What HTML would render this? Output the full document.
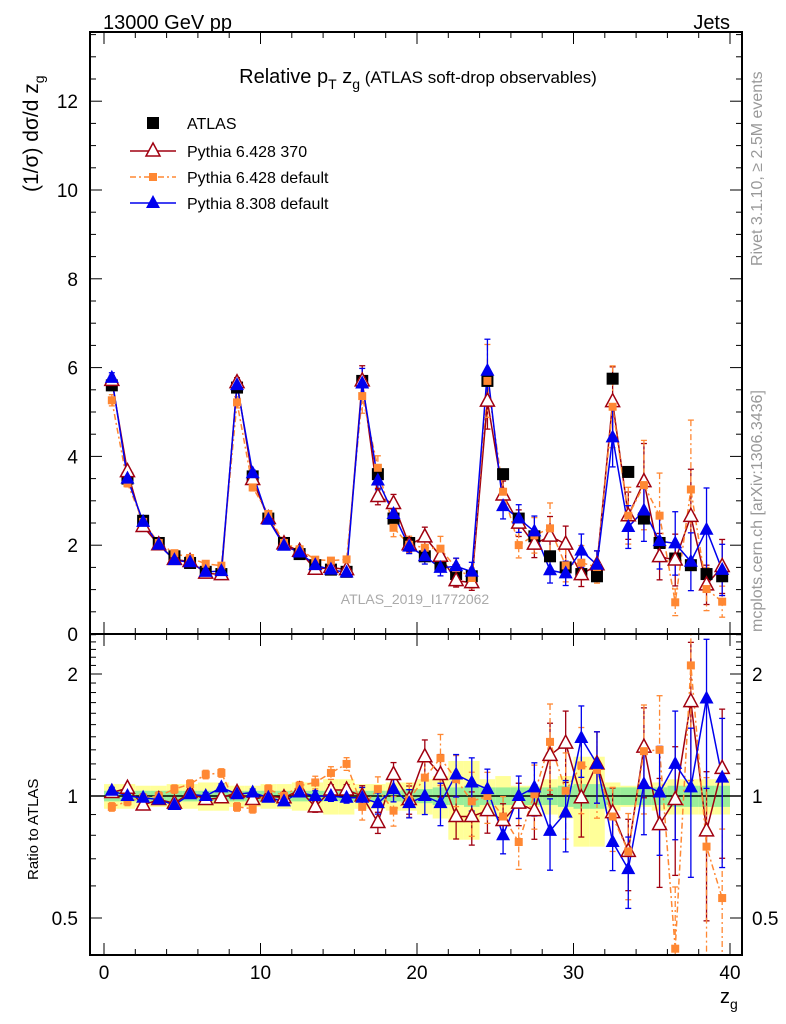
<!DOCTYPE html>
<html><head><meta charset="utf-8"><style>
html,body{margin:0;padding:0;background:#fff;}
svg{display:block;font-family:"Liberation Sans",sans-serif;}
</style></head><body>
<svg id="c" width="786" height="1024" viewBox="0 0 786 1024" xmlns="http://www.w3.org/2000/svg">
<text x="103" y="29" font-size="20">13000 GeV pp</text>
<text x="730" y="29" font-size="20" text-anchor="end">Jets</text>
<text x="418" y="83" font-size="20" text-anchor="middle">Relative p<tspan font-size="14" dy="6">T</tspan><tspan dy="-6"> z</tspan><tspan font-size="14" dy="6">g</tspan><tspan dy="-6" font-size="17"> (ATLAS soft-drop observables)</tspan></text>
<text transform="translate(38,192) rotate(-90)" font-size="21">(1/σ) dσ/d z<tspan font-size="14" dy="6">g</tspan></text>
<text transform="translate(38,880) rotate(-90)" font-size="15">Ratio to ATLAS</text>
<text x="720" y="1003" font-size="20">z<tspan font-size="14" dy="6">g</tspan></text>
<text transform="translate(762,266) rotate(-90)" font-size="16" fill="#999">Rivet 3.1.10, ≥ 2.5M events</text>
<text transform="translate(762,632) rotate(-90)" font-size="16" fill="#999">mcplots.cern.ch [arXiv:1306.3436]</text>
<text x="415" y="604" font-size="14" fill="#aaa" text-anchor="middle">ATLAS_2019_I1772062</text>
<g id="plot"></g>
<g>
<rect x="147" y="117" width="12" height="12" fill="#000"/>
<text x="187" y="129" font-size="16">ATLAS</text>
<line x1="130" y1="151" x2="176" y2="151" stroke="#a00010" stroke-width="1.5"/>
<polygon points="153,143 146,156 160,156" fill="#fff" stroke="#a00010" stroke-width="1.5"/>
<text x="187" y="157" font-size="16">Pythia 6.428 370</text>
<line x1="130" y1="177" x2="176" y2="177" stroke="#ff8833" stroke-width="1.5" stroke-dasharray="6,3,2,3"/>
<rect x="149" y="173" width="8" height="8" fill="#ff8833"/>
<text x="187" y="183" font-size="16">Pythia 6.428 default</text>
<line x1="130" y1="203" x2="176" y2="203" stroke="#0000ee" stroke-width="1.5"/>
<polygon points="153,195 146,208 160,208" fill="#0000ee"/>
<text x="187" y="209" font-size="16">Pythia 8.308 default</text>
</g>
</svg>
<script>
const zBins=[0.5,1.5,2.5,3.5,4.5,5.5,6.5,7.5,8.5,9.5,10.5,11.5,12.5,13.5,14.5,15.5,16.5,17.5,18.5,19.5,20.5,21.5,22.5,23.5,24.5,25.5,26.5,27.5,28.5,29.5,30.5,31.5,32.5,33.5,34.5,35.5,36.5,37.5,38.5,39.5];
const atlas=[5.6,3.5,2.55,2.05,1.75,1.6,1.4,1.35,5.55,3.55,2.6,2.05,1.8,1.55,1.45,1.4,5.7,3.6,2.6,2.05,1.75,1.55,1.35,1.3,5.7,3.6,2.6,2.2,1.75,1.5,1.35,1.3,5.75,3.65,2.6,2.05,1.7,1.55,1.35,1.3];
const bandGreen=[0.03,0.03,0.03,0.03,0.03,0.03,0.03,0.03,0.03,0.03,0.03,0.03,0.03,0.03,0.03,0.03,0.03,0.03,0.03,0.04,0.04,0.05,0.05,0.06,0.05,0.05,0.05,0.05,0.05,0.06,0.07,0.07,0.05,0.05,0.05,0.05,0.06,0.06,0.06,0.06];
const bandYellow=[0.07,0.07,0.06,0.06,0.07,0.07,0.08,0.08,0.06,0.06,0.07,0.07,0.08,0.08,0.1,0.1,0.07,0.07,0.08,0.08,0.1,0.12,0.22,0.22,0.1,0.12,0.06,0.06,0.1,0.12,0.25,0.25,0.08,0.06,0.06,0.08,0.1,0.1,0.1,0.1];
const ratioP6370=[1.02,1.045,0.95,0.98,0.96,1.02,0.98,0.99,1.02,0.98,1.0,0.99,1.035,0.94,1.035,1.035,1.0,0.86,1.13,0.98,1.25,1.13,0.89,0.89,0.92,0.87,0.96,0.92,1.26,1.35,0.99,1.2,0.91,0.73,1.32,0.85,0.98,1.71,0.82,1.17];
const ratioP6def=[0.94,0.97,0.99,1.0,1.04,1.07,1.13,1.14,0.94,0.93,1.04,1.0,1.06,1.08,1.14,1.2,0.94,1.04,0.92,0.98,1.11,1.24,1.1,0.97,1.0,0.89,0.77,1.01,1.36,1.03,1.19,1.16,0.89,0.73,1.29,1.3,0.42,2.1,0.75,0.56];
const ratioP8=[1.03,1.0,0.99,0.98,0.95,1.01,1.0,1.05,1.01,1.02,0.99,0.97,1.02,1.0,1.0,0.99,0.99,0.96,1.04,0.96,1.0,0.96,1.13,1.08,1.04,0.8,1.0,1.05,0.82,0.91,1.39,1.2,0.77,0.66,1.07,1.02,1.2,1.05,1.74,1.11];
const mcErr=[0.02,0.02,0.02,0.02,0.02,0.02,0.02,0.02,0.02,0.02,0.02,0.02,0.02,0.03,0.03,0.03,0.06,0.06,0.07,0.08,0.1,0.12,0.12,0.15,0.12,0.1,0.12,0.15,0.2,0.2,0.2,0.2,0.15,0.2,0.25,0.3,0.35,0.4,0.4,0.4];
const yTicks=[0,2,4,6,8,10,12];
const xTicks=[0,10,20,30,40];
const rTicks=[0.5,1,2];

const NS="http://www.w3.org/2000/svg";
const g=document.getElementById('plot');
const L=90,R=742,T=32,MB=634,RB=955;
const X=z=>104+z*15.65;
const Y=v=>634-v*44.4;
const RY=r=>796-Math.log2(r)*122;
function mk(tag,a,parent){const e=document.createElementNS(NS,tag);for(const k in a)e.setAttribute(k,a[k]);(parent||g).appendChild(e);return e;}
const clipM=mk('clipPath',{id:'cm'});mk('rect',{x:L,y:T,width:R-L,height:MB-T},clipM);
const clipR=mk('clipPath',{id:'cr'});mk('rect',{x:L,y:MB,width:R-L,height:RB-MB},clipR);
const gm=mk('g',{'clip-path':'url(#cm)'});


const gr=mk('g',{'clip-path':'url(#cr)'});


const hw=7.8;
zBins.forEach((z,i)=>{
 const y=mk('rect',{x:X(z)-hw,y:RY(1+bandYellow[i]),width:2*hw,height:RY(1-bandYellow[i])-RY(1+bandYellow[i]),fill:'#ffff99'},gr);
 
 
});
zBins.forEach((z,i)=>{
 const e=mk('rect',{x:X(z)-hw,y:RY(1+bandGreen[i]),width:2*hw,height:RY(1-bandGreen[i])-RY(1+bandGreen[i]),fill:'#99ee99'},gr);
 
 
});
mk('line',{x1:L,x2:R,y1:RY(1),y2:RY(1),stroke:'#000','stroke-width':1.5},gr);
const series=[
 {r:ratioP6370,c:'#a00010',dash:'',m:'otri',name:'p6-370'},
 {r:ratioP6def,c:'#ff8833',dash:'6,3,2,3',m:'sq',name:'p6-default'},
 {r:ratioP8,c:'#0000ee',dash:'',m:'tri',name:'p8'}
];
function marker(par,m,x,y,c,nm){
 let e;
 if(m==='otri')e=mk('polygon',{points:`${x},${y-8} ${x-7},${y+5} ${x+7},${y+5}`,fill:'#fff',stroke:c,'stroke-width':1.5},par);
 else if(m==='tri')e=mk('polygon',{points:`${x},${y-8} ${x-7},${y+5} ${x+7},${y+5}`,fill:c},par);
 else if(m==='sq')e=mk('rect',{x:x-4,y:y-4,width:8,height:8,fill:c},par);
 else e=mk('rect',{x:x-6,y:y-6,width:12,height:12,fill:c},par);
 
 
}
series.forEach(s=>{
 const vals=atlas.map((a,i)=>a*s.r[i]);
 let d='';vals.forEach((v,i)=>{d+=(i?'L':'M')+X(zBins[i])+','+Y(v);});
 const pl=mk('path',{d,fill:'none',stroke:s.c,'stroke-width':1.5,'stroke-dasharray':s.dash},gm);
 
 
 let d2='';s.r.forEach((v,i)=>{d2+=(i?'L':'M')+X(zBins[i])+','+RY(v);});
 const pr=mk('path',{d:d2,fill:'none',stroke:s.c,'stroke-width':1.5,'stroke-dasharray':s.dash},gr);
 
 
 vals.forEach((v,i)=>{
  const x=X(zBins[i]),e=mcErr[i]*(s.m==='sq'?1.2:1);
  [[gm,Y(v*(1+e)),Y(v*(1-e))],[gr,RY(s.r[i]*(1+e)),RY(Math.max(0.05,s.r[i]*(1-e)))]].forEach(([p,a,b])=>{
   mk('line',{x1:x,x2:x,y1:a,y2:b,stroke:s.c,'stroke-width':1.3,'stroke-dasharray':s.dash},p);
   mk('line',{x1:x-3,x2:x+3,y1:a,y2:a,stroke:s.c,'stroke-width':1.3},p);
   mk('line',{x1:x-3,x2:x+3,y1:b,y2:b,stroke:s.c,'stroke-width':1.3},p);
  });
 });
});
zBins.forEach((z,i)=>marker(gm,'data',X(z),Y(atlas[i]),'#000','atlas-point'));
series.forEach(s=>{
 atlas.forEach((a,i)=>{
  marker(gm,s.m,X(zBins[i]),Y(a*s.r[i]),s.c,s.name+'-point');
  marker(gr,s.m,X(zBins[i]),RY(s.r[i]),s.c,s.name+'-ratio-point');
 });
});
const f1=mk('rect',{x:L,y:T,width:R-L,height:MB-T,fill:'none',stroke:'#000','stroke-width':2});


const f2=mk('rect',{x:L,y:MB,width:R-L,height:RB-MB,fill:'none',stroke:'#000','stroke-width':2});


for(let v=0;v<=13.5;v+=0.5){
 const maj=Math.abs(v%2)<1e-9,len=maj?12:6,y=Y(v);if(y<T)continue;
 mk('line',{x1:L,x2:L+len,y1:y,y2:y,stroke:'#000'});
 mk('line',{x1:R,x2:R-len,y1:y,y2:y,stroke:'#000'});
}
yTicks.forEach(v=>{const t=mk('text',{x:L-12,y:Y(v)+7,'font-size':19,'text-anchor':'end'});t.textContent=v;
 
 });
for(let z=0;z<=40;z+=2){
 const maj=z%10===0,len=maj?12:6,x=X(z);
 [MB,RB].forEach(b=>{mk('line',{x1:x,x2:x,y1:b,y2:b-len,stroke:'#000'});});
 mk('line',{x1:x,x2:x,y1:T,y2:T+len,stroke:'#000'});
 mk('line',{x1:x,x2:x,y1:MB,y2:MB+len,stroke:'#000'});
}
xTicks.forEach(z=>{const t=mk('text',{x:X(z),y:979,'font-size':19,'text-anchor':'middle'});t.textContent=z;
 
 });
[0.5,0.6,0.7,0.8,0.9,1,1.1,1.2,1.3,1.4,1.5,1.6,1.7,1.8,1.9,2,2.1,2.2,2.3,2.4,2.5].forEach(r=>{
 const maj=rTicks.includes(r),len=maj?12:6,y=RY(r);if(y<MB||y>RB)return;
 mk('line',{x1:L,x2:L+len,y1:y,y2:y,stroke:'#000'});
 mk('line',{x1:R,x2:R-len,y1:y,y2:y,stroke:'#000'});
});
rTicks.forEach(r=>{
 const t=mk('text',{x:L-12,y:RY(r)+7,'font-size':19,'text-anchor':'end'});t.textContent=r;
 
 
 const t2=mk('text',{x:R+10,y:RY(r)+7,'font-size':19});t2.textContent=r;
 
 
});
</script>
</body></html>
